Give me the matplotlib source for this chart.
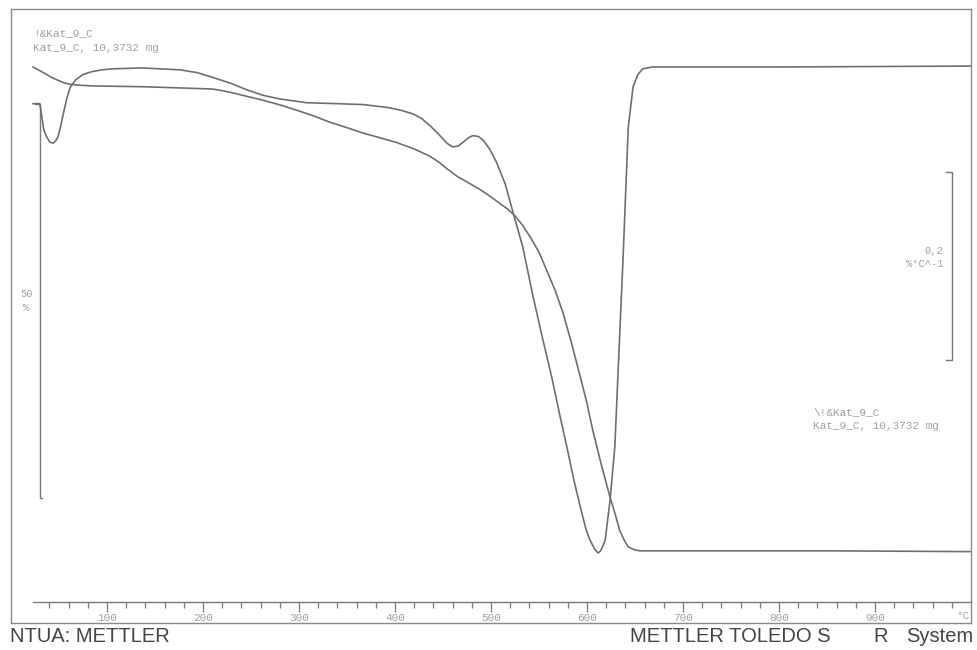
import numpy as np
import matplotlib
matplotlib.use('Agg')
import matplotlib.pyplot as plt

# TGA / DTG run, sample Kat_9_C
sample_name = 'Kat_9_C'
sample_mass = '10,3732 mg'

# weight curve (%) vs temperature (°C)
tga_temp = [23, 29, 35, 42, 49, 55, 61.5, 70, 84, 110, 136, 175, 210, 220, 228,
            245, 262, 280, 298, 315, 332, 350, 367, 385, 402, 420, 436, 446,
            454, 465, 478, 488, 499, 509, 517, 525, 533, 541, 550, 558, 567,
            575, 584, 593, 600, 606, 615, 624, 630, 634, 639, 643, 649, 655,
            697, 850, 999]
tga_weight = [100.0, 99.6, 99.2, 98.7, 98.3, 98.0, 97.8, 97.7, 97.6, 97.55, 97.5,
              97.35, 97.2, 97.0, 96.8, 96.3, 95.8, 95.2, 94.5, 93.8, 93.0, 92.3,
              91.6, 91.0, 90.4, 89.6, 88.7, 87.9, 87.1, 86.1, 85.2, 84.5, 83.6,
              82.7, 82.0, 81.1, 79.9, 78.4, 76.5, 74.2, 71.6, 68.8, 64.9, 60.7,
              57.3, 53.9, 49.5, 45.4, 43.0, 41.2, 39.9, 39.1, 38.75, 38.6,
              38.6, 38.6, 38.5]

# derivative curve (%/°C)
dtg_temp = [23, 30, 32, 34, 37, 40.5, 44, 47, 49, 52, 54, 58, 61.5, 67, 75, 84,
            95, 105, 136, 176, 194, 210, 228, 245, 262, 280, 308, 340, 367,
            392, 406, 419, 428, 436, 445, 454, 460, 466, 471, 477, 481, 487,
            492, 499, 506, 515, 523, 533, 544, 554, 563.5, 572, 579, 586, 593,
            599, 603, 608, 611.5, 614, 616, 619, 624, 629, 632, 637.5, 643, 648,
            653, 658, 668, 679, 800, 999]
dtg_rate = [-0.039, -0.039, -0.052, -0.066, -0.074, -0.080, -0.081, -0.078,
            -0.074, -0.062, -0.052, -0.034, -0.022, -0.014, -0.008, -0.005,
            -0.003, -0.002, -0.001, -0.003, -0.006, -0.011, -0.017, -0.024,
            -0.030, -0.034, -0.038, -0.039, -0.040, -0.043, -0.046, -0.050,
            -0.055, -0.062, -0.071, -0.081, -0.085, -0.084, -0.080, -0.075,
            -0.073, -0.074, -0.078, -0.088, -0.102, -0.125, -0.155, -0.191,
            -0.245, -0.290, -0.331, -0.372, -0.404, -0.438, -0.468, -0.492,
            -0.503, -0.513, -0.517, -0.515, -0.511, -0.503, -0.461, -0.404,
            -0.333, -0.205, -0.064, -0.021, -0.008, -0.002, 0.0, 0.0, 0.0,
            0.001]

major_ticks = [100, 200, 300, 400, 500, 600, 700, 800, 900]
minor_ticks = [t for t in range(40, 1000, 20) if t % 100]

# scale bars
tga_bar = 50      # %
tga_bar_top = 95.3
dtg_bar = 0.2     # %/°C
dtg_bar_top = -0.112

W, H = 978, 650
line_col = '#6f6f6f'
text_col = '#a0a0a0'
mono = 'Liberation Mono'


def fx(px):
    return px / W


def fy(py):
    return 1 - py / H


fig = plt.figure(figsize=(W / 100, H / 100), dpi=100)
ax = fig.add_axes([fx(11), fy(623), (971 - 11) / W, (623 - 9) / H])
ax.set_xlim(0, 1000)
ax.set_ylim(29.44, 107.36)
ax.set_xticks([])
ax.set_yticks([])
for s in ax.spines.values():
    s.set_color('#8a8a8a')
    s.set_linewidth(1.0)

ax2 = ax.twinx()
ax2.set_ylim(-0.5915, 0.0617)
ax2.set_yticks([])
for s in ax2.spines.values():
    s.set_visible(False)

ax.plot(tga_temp, tga_weight, color=line_col, lw=1.2, solid_joinstyle='round')
ax2.plot(dtg_temp, dtg_rate, color=line_col, lw=1.2, solid_joinstyle='round')

# temperature axis inside the frame
sec = ax.secondary_xaxis((623 - 602) / 614)
sec.spines['bottom'].set_bounds(23, 1000)
sec.spines['bottom'].set_color('#7a7a7a')
sec.spines['bottom'].set_linewidth(1.0)
sec.set_xticks(major_ticks)
sec.set_xticks(minor_ticks, minor=True)
sec.set_xticklabels([str(t) for t in major_ticks])
sec.tick_params(which='major', length=7, width=0.9, color='#7a7a7a', pad=1,
                labelsize=8, labelcolor=text_col)
sec.tick_params(which='minor', length=4.5, width=0.9, color='#7a7a7a')
for lab in sec.get_xticklabels():
    lab.set_fontfamily(mono)
fig.text(fx(963), fy(616), '°C', fontsize=8, color=text_col,
         family=mono, ha='center', va='center')

# weight scale bar (left)
bx = 30.2
ax.plot([25, bx, bx, 32], [tga_bar_top, tga_bar_top,
                            tga_bar_top - tga_bar, tga_bar_top - tga_bar],
        color='#7a7a7a', lw=1.0)
ax.text(16, tga_bar_top - tga_bar / 2, f'{tga_bar}\n%', fontsize=7.5,
        color=text_col, family=mono, ha='center', va='center', linespacing=1.6)

# rate scale bar (right)
rx = 980.2
ax2.plot([974, rx, rx, 974], [dtg_bar_top, dtg_bar_top,
                              dtg_bar_top - dtg_bar, dtg_bar_top - dtg_bar],
         color='#7a7a7a', lw=1.0)
ax2.text(971, dtg_bar_top - dtg_bar / 2 + 0.009,
         f'{str(dtg_bar).replace(".", ",")}\n%°C^-1', fontsize=7.5,
         color=text_col, family=mono, ha='right', va='center', linespacing=1.4)

# sample labels
fig.text(fx(33), fy(33), '!&' + sample_name, fontsize=8, color=text_col,
         family=mono, va='center')
fig.text(fx(33), fy(48), f'{sample_name}, {sample_mass}', fontsize=8,
         color=text_col, family=mono, va='center')
fig.text(fx(813), fy(412), '\\!&' + sample_name, fontsize=8, color=text_col,
         family=mono, va='center')
fig.text(fx(813), fy(426), f'{sample_name}, {sample_mass}', fontsize=8,
         color=text_col, family=mono, va='center')

# footer
foot = dict(fontsize=14.5, color='#454545', family='Liberation Sans', va='center')
fig.text(fx(10), fy(637), 'NTUA: METTLER', ha='left', **foot)
fig.text(fx(630), fy(637), 'METTLER TOLEDO S', ha='left', **foot)
fig.text(fx(873), fy(637), 'R', ha='left', **foot)
fig.text(fx(973), fy(637), 'System', ha='right', **foot)

fig.savefig('out.png', dpi=100, facecolor='white')
